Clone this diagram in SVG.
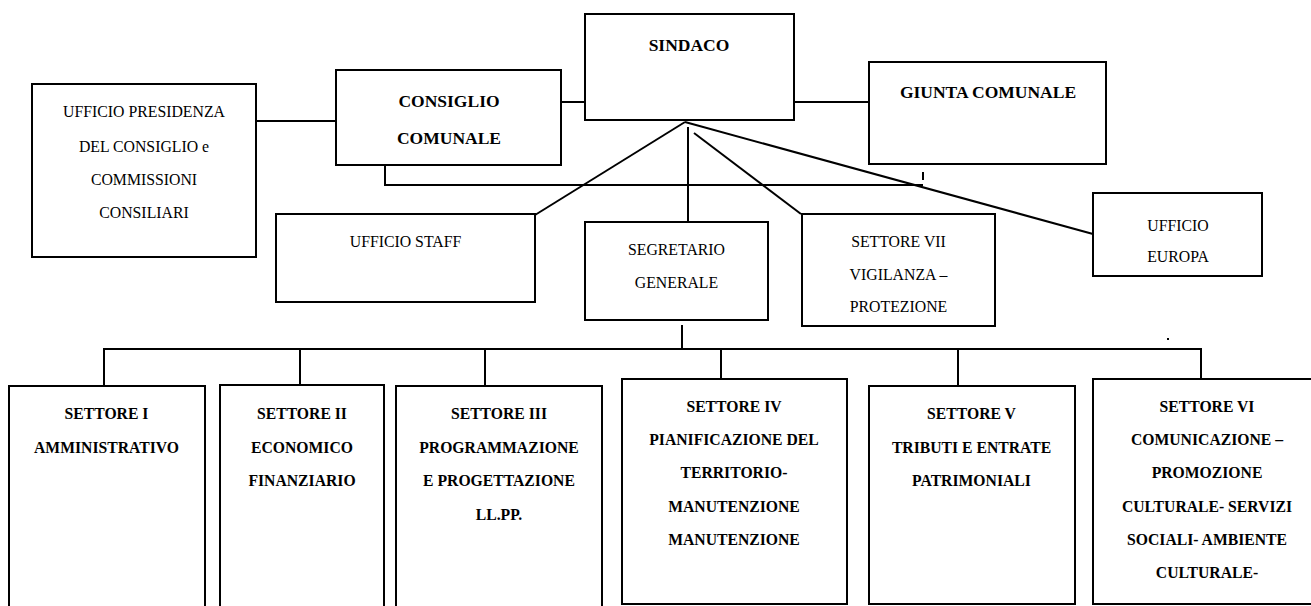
<svg xmlns="http://www.w3.org/2000/svg" width="1311" height="606" viewBox="0 0 1311 606">
<style>
.box{fill:#fff;stroke:#000;stroke-width:2}
.ln{fill:none;stroke:#000;stroke-width:2}
text{font-family:"Liberation Serif","Times New Roman",serif;fill:#000;text-anchor:middle}
.r{font-size:15.8px}
.b{font-size:17.5px;font-weight:bold}
.s{font-size:15.7px;font-weight:bold}
</style>
<rect width="1311" height="606" fill="#fff"/>
<g id="connectors">
<line class="ln" x1="256" y1="121" x2="336" y2="121"/>
<line class="ln" x1="561" y1="102" x2="585" y2="102"/>
<line class="ln" x1="794" y1="102" x2="869" y2="102"/>
<line class="ln" x1="685" y1="122" x2="535" y2="215"/>
<line class="ln" x1="688" y1="127" x2="688" y2="239"/>
<line class="ln" x1="694" y1="133" x2="801" y2="214"/>
<line class="ln" x1="685" y1="122" x2="1093" y2="234"/>
<polyline class="ln" points="385,156 385,185 923,185"/>
<line class="ln" x1="923" y1="172" x2="923" y2="180"/>
<line class="ln" x1="682" y1="325" x2="682" y2="349"/>
<line class="ln" x1="103" y1="349" x2="1202" y2="349"/>
<line class="ln" x1="104" y1="349" x2="104" y2="386"/>
<line class="ln" x1="300" y1="349" x2="300" y2="385"/>
<line class="ln" x1="485" y1="349" x2="485" y2="386"/>
<line class="ln" x1="721" y1="349" x2="721" y2="386"/>
<line class="ln" x1="958" y1="349" x2="958" y2="386"/>
<line class="ln" x1="1201" y1="349" x2="1201" y2="379"/>
<rect x="1167" y="338" width="2" height="2" fill="#000"/>
</g>
<g id="sindaco">
<rect class="box" x="585" y="14" width="209" height="106"/>
<text class="b" x="689" y="51">SINDACO</text>
</g>
<g id="consiglio">
<rect class="box" x="336" y="70" width="225" height="95"/>
<text class="b" x="449" y="107">CONSIGLIO</text>
<text class="b" x="449" y="144">COMUNALE</text>
</g>
<g id="presidenza">
<rect class="box" x="32" y="84" width="224" height="173"/>
<text class="r" x="144" y="117">UFFICIO PRESIDENZA</text>
<text class="r" x="144" y="152">DEL CONSIGLIO e</text>
<text class="r" x="144" y="185">COMMISSIONI</text>
<text class="r" x="144" y="218">CONSILIARI</text>
</g>
<g id="giunta">
<rect class="box" x="869" y="62" width="237" height="102"/>
<text class="b" x="988" y="98">GIUNTA COMUNALE</text>
</g>
<g id="staff">
<rect class="box" x="276" y="214" width="259" height="88"/>
<text class="r" x="405.5" y="247">UFFICIO STAFF</text>
</g>
<g id="segretario">
<rect class="box" x="585" y="222" width="183" height="98"/>
<text class="r" x="676.5" y="255">SEGRETARIO</text>
<text class="r" x="676.5" y="288">GENERALE</text>
</g>
<g id="settore7">
<rect class="box" x="802" y="214" width="193" height="112"/>
<text class="r" x="898.5" y="247">SETTORE VII</text>
<text class="r" x="898.5" y="280">VIGILANZA –</text>
<text class="r" x="898.5" y="312">PROTEZIONE</text>
</g>
<g id="europa">
<rect class="box" x="1093" y="193" width="169" height="83"/>
<text class="r" x="1178" y="231">UFFICIO</text>
<text class="r" x="1178" y="262">EUROPA</text>
</g>
<g id="settore1">
<rect class="box" x="9" y="386" width="196" height="240"/>
<text class="s" x="106.5" y="419">SETTORE I</text>
<text class="s" x="106.5" y="453">AMMINISTRATIVO</text>
</g>
<g id="settore2">
<rect class="box" x="220" y="385" width="164" height="240"/>
<text class="s" x="302" y="419">SETTORE II</text>
<text class="s" x="302" y="453">ECONOMICO</text>
<text class="s" x="302" y="486">FINANZIARIO</text>
</g>
<g id="settore3">
<rect class="box" x="396" y="386" width="206" height="240"/>
<text class="s" x="499" y="419">SETTORE III</text>
<text class="s" x="499" y="453">PROGRAMMAZIONE</text>
<text class="s" x="499" y="486">E PROGETTAZIONE</text>
<text class="s" x="499" y="520">LL.PP.</text>
</g>
<g id="settore4">
<rect class="box" x="622" y="379" width="225" height="225"/>
<text class="s" x="734" y="412">SETTORE IV</text>
<text class="s" x="734" y="445">PIANIFICAZIONE DEL</text>
<text class="s" x="734" y="478">TERRITORIO-</text>
<text class="s" x="734" y="512">MANUTENZIONE</text>
<text class="s" x="734" y="545">MANUTENZIONE</text>
</g>
<g id="settore5">
<rect class="box" x="869" y="386" width="206" height="218"/>
<text class="s" x="971.5" y="419">SETTORE V</text>
<text class="s" x="971.5" y="453">TRIBUTI E ENTRATE</text>
<text class="s" x="971.5" y="486">PATRIMONIALI</text>
</g>
<g id="settore6">
<rect class="box" x="1093" y="379" width="240" height="225"/>
<text class="s" x="1207" y="412">SETTORE VI</text>
<text class="s" x="1207" y="445">COMUNICAZIONE –</text>
<text class="s" x="1207" y="478">PROMOZIONE</text>
<text class="s" x="1207" y="512">CULTURALE- SERVIZI</text>
<text class="s" x="1207" y="545">SOCIALI- AMBIENTE</text>
<text class="s" x="1207" y="578">CULTURALE-</text>
</g>
</svg>
